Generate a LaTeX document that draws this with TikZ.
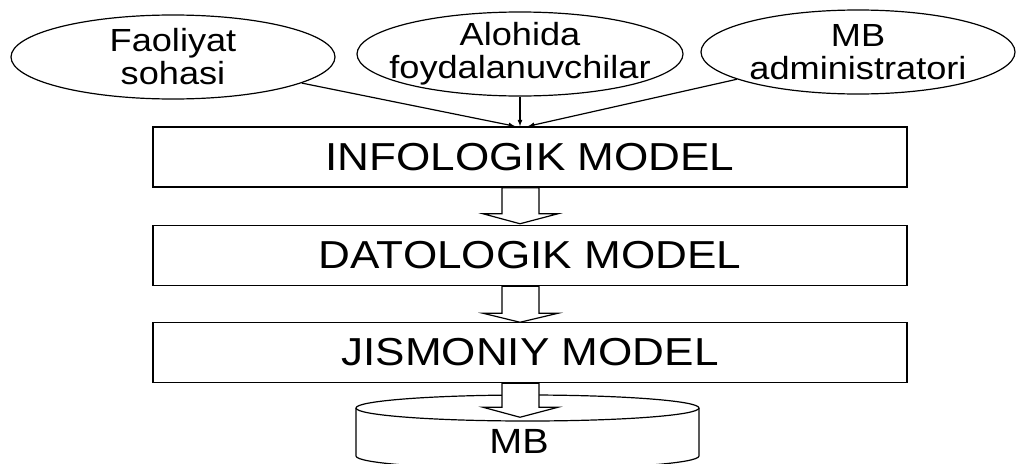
\documentclass[tikz,border=0pt]{standalone}
\usepackage{fontspec}
\setmainfont{Liberation Sans}[FakeStretch=1.13]
\usetikzlibrary{shapes.geometric}
\usetikzlibrary{arrows}
\usetikzlibrary{calc}

\tikzset{
  src/.style={ellipse, draw, line width=1.2pt, minimum width=324pt, minimum height=84pt,
    inner xsep=-25pt, inner ysep=-12pt, align=center, font=\fontsize{32}{33}\selectfont},
  modelbox/.style={rectangle, draw, line width=1.5pt, minimum width=754pt, minimum height=60pt,
    inner sep=0pt, font=\fontsize{39}{40}\selectfont},
  hollow/.style={draw, fill=white, line width=1.2pt},
}

\begin{document}
\begin{tikzpicture}[x=1pt, y=-1pt, line width=1.2pt, >=latex]
  \useasboundingbox (0,0) rectangle (1016,463);
  % sources
  \node[src] (e1) at (173,57) {Faoliyat\\sohasi};
  \node[src, minimum width=326pt] (e2) at (520,54) {Alohida\\foydalanuvchilar};
  \node[src, minimum width=314pt] (e3) at (858,52) {MB\\administratori};

  % models
  \node[modelbox] (m1) at (530,157) {INFOLOGIK MODEL};
  \node[modelbox] (m2) at (530,255.5) {DATOLOGIK MODEL};
  \node[modelbox] (m3) at (530,352.5) {JISMONIY MODEL};

  % database
  \draw (356,408) -- (356,456)
    arc[start angle=180, end angle=360, x radius=171.5pt, y radius=13pt] -- (699,408);
  \draw (527.5,408) ellipse (171.5pt and 13pt);
  \node[font=\fontsize{35}{36}\selectfont] (mb) at (519,441) {MB};

  \foreach \src/\dx in {e1/-15, e2/-10, e3/-2}
   \draw[->] (\src) -- ([xshift=\dx pt]m1.north);
  \foreach \a/\s/\len in {m1/26/36, m2/27/36, m3/24/34}
   \draw[hollow] ($(\a.south)+(-28,0)$) -- ++(0,\s) -- ++(-19,0) -- ($(\a.south)+(-10,\len)$)
     -- ($(\a.south)+(28,\s)$) -- ++(-19,0) -- ($(\a.south)+(9,0)$) -- cycle;
\end{tikzpicture}
\end{document}
